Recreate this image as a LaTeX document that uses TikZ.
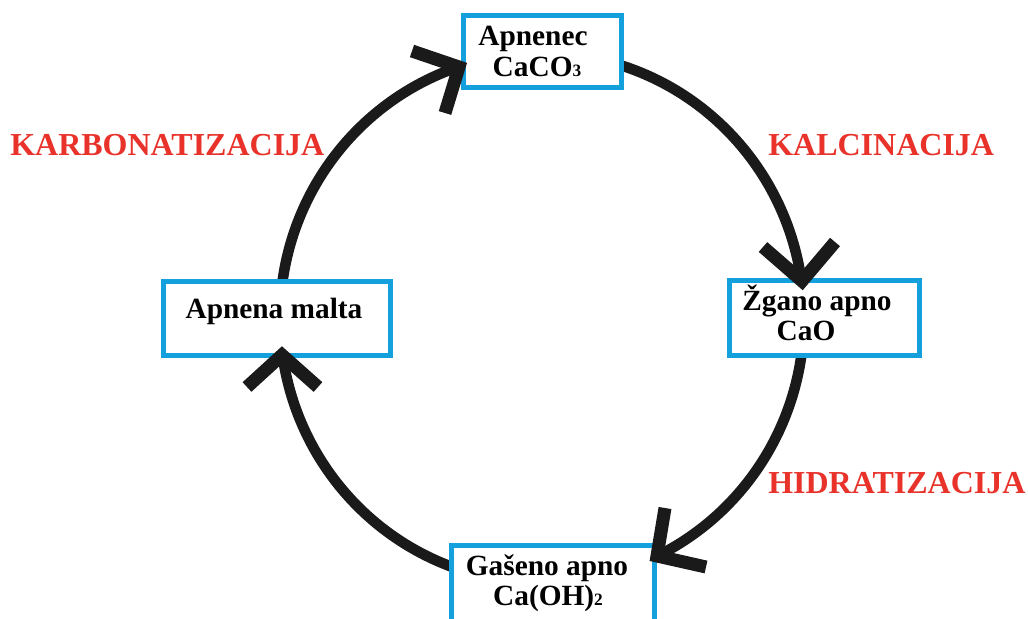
\documentclass[tikz,border=0pt]{standalone}
\usepackage{fontspec}
\setmainfont{Liberation Serif}
\usetikzlibrary{calc}
\definecolor{boxblue}{RGB}{20,160,220}
\definecolor{labelred}{RGB}{232,50,42}
\definecolor{ink}{RGB}{26,26,26}
\begin{document}
\begin{tikzpicture}[x=0.75pt,y=-0.75pt,
  box/.style={draw=boxblue,line width=4.1pt,fill=white,rectangle,inner sep=0pt},
  txt/.style={anchor=base,inner sep=0pt,font=\fontsize{22}{26}\selectfont\bfseries},
  lbl/.style={anchor=base west,inner sep=0pt,text=labelred,font=\fontsize{24}{28}\selectfont\bfseries},
  cyc/.style={line width=7.9pt,draw=ink},
  chev/.style={line width=9.75pt,draw=ink,miter limit=10,line join=miter}]
\useasboundingbox (0,0) rectangle (1028,618);
\fill[white] (0,0) rectangle (1028,618);
\clip (0,0) rectangle (1028,618);

\coordinate (C) at (542,318);
% arc start points (inside the boxes)
\coordinate (sA) at ($(C)+(186:262 and 265)$);
\coordinate (sB) at ($(C)+(286:262 and 265)$);
\coordinate (sC) at ($(C)+(6:262 and 265)$);
\coordinate (sD) at ($(C)+(106:262 and 265)$);

% cycle arcs
\draw[cyc] (sA) arc[start angle=186,end angle=251.5,x radius=262,y radius=265];
\draw[cyc] (sB) arc[start angle=286,end angle=352,x radius=262,y radius=265];
\draw[cyc] (sC) arc[start angle=6,end angle=63.95,x radius=262,y radius=265];
\draw[cyc] (sD) arc[start angle=106,end angle=172,x radius=262,y radius=265];

% boxes
\node[box,minimum width=118.5pt,minimum height=54pt] (apnenec) at (542.5,51.5) {};
\node[box,minimum width=142.5pt,minimum height=56.25pt] (zgano) at (824.5,318) {};
\node[box,minimum width=170.25pt,minimum height=55.5pt] (malta) at (277,318.5) {};
\node[box,minimum width=152.25pt,minimum height=85.9pt] (gaseno) at (553,602.75) {};

% box texts
\node[txt] (t1) at (533,45) {Apnenec};
\node[txt] (t2) at (537,76) {CaCO{\fontsize{13}{13}\selectfont 3}};
\node[txt] (t3) at (817,310) {Žgano apno};
\node[txt] (t4) at (806,340) {CaO};
\node[txt] (t5) at (547,575) {Gašeno apno};
\node[txt] (t6) at (548,605) {Ca(OH){\fontsize{13}{13}\selectfont 2}};
\node[txt] (t7) at (274,318) {Apnena malta};

% chevron arrow heads
\coordinate (tA) at (459,67); \coordinate (aA1) at (412,51); \coordinate (aA2) at (445,113);
\draw[chev] (aA1) -- (tA) -- (aA2);
\coordinate (tB) at (802,281); \coordinate (aB1) at (763,247); \coordinate (aB2) at (835,242);
\draw[chev] (aB1) -- (tB) -- (aB2);
\coordinate (tC) at (657,556); \coordinate (aC1) at (665,508); \coordinate (aC2) at (706,567);
\draw[chev] (aC1) -- (tC) -- (aC2);
\coordinate (tD) at (282,355); \coordinate (aD1) at (247,387); \coordinate (aD2) at (318,387);
\draw[chev] (aD1) -- (tD) -- (aD2);

% process labels
\node[lbl] (l1) at (10,155) {KARBONATIZACIJA};
\node[lbl] (l2) at (768,155) {KALCINACIJA};
\node[lbl] (l3) at (768,493) {HIDRATIZACIJA};
\end{tikzpicture}
\end{document}
